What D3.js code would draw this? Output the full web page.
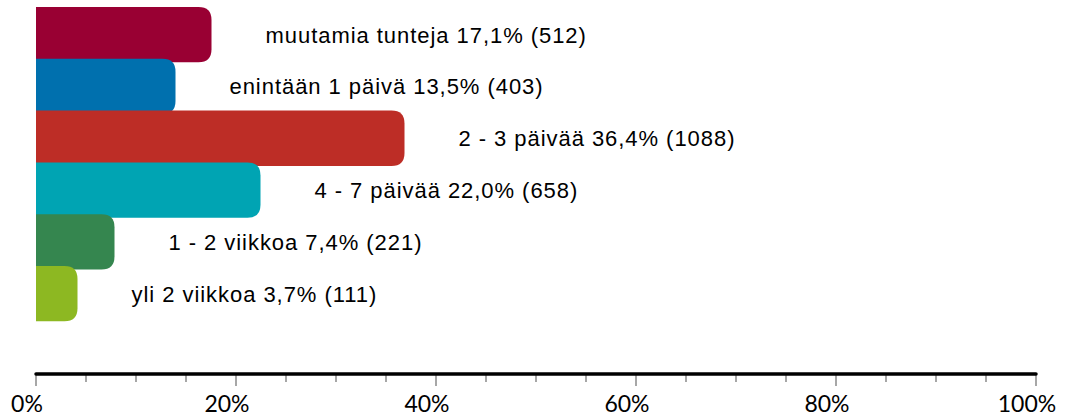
<!DOCTYPE html>
<html>
<head>
<meta charset="utf-8">
<script src="https://cdn.jsdelivr.net/npm/d3@7"></script>
<style>
  body { margin: 0; background: #fff; }
  svg text { fill: #000; }
</style>
</head>
<body>
<svg id="chart"></svg>
<script>
  var
    width = 1066,
    height = 416;

  // data
  var categories = ['muutamia tunteja', 'enintään 1 päivä', '2 - 3 päivää', '4 - 7 päivää', '1 - 2 viikkoa', 'yli 2 viikkoa'];
  var percents = [17.1, 13.5, 36.4, 22.0, 7.4, 3.7];
  var counts = [512, 403, 1088, 658, 221, 111];
  var barColors = ['#990033', '#0070ae', '#bd2d26', '#00a4b3', '#35864f', '#8db822'];
  var tickValues = [0, 20, 40, 60, 80, 100];

  var rows = categories.map(function(c, i) {
    return { name: c, pct: percents[i], n: counts[i], color: barColors[i] };
  });

  var svg = d3.select('#chart')
    .attr('width', width)
    .attr('height', height);

  var x = d3.scaleLinear().domain([0, 100]).range([36, 1036]);
  var y = d3.scaleBand().domain(categories).range([7, 7 + 6 * 51.8]).padding(0);

  var barH = y.bandwidth() + 3.5,
    r = 13,
    cap = 4.5; // bars run a little past their value in the original

  function barPath(d) {
    var x0 = x(0), x1 = x(d.pct) + cap, y0 = y(d.name), y1 = y0 + barH;
    return 'M' + x0 + ',' + y0 +
      'H' + (x1 - r) +
      'Q' + x1 + ',' + y0 + ' ' + x1 + ',' + (y0 + r) +
      'V' + (y1 - r) +
      'Q' + x1 + ',' + y1 + ' ' + (x1 - r) + ',' + y1 +
      'H' + x0 + 'Z';
  }

  svg.append('g')
    .attr('class', 'bars')
    .selectAll('path')
    .data(rows)
    .enter().append('path')
    .attr('d', barPath)
    .attr('fill', function(d) { return d.color; });

  svg.append('g')
    .attr('class', 'labels')
    .selectAll('text')
    .data(rows)
    .enter().append('text')
    .attr('x', function(d) { return x(d.pct) + cap + 54; })
    .attr('y', function(d) { return y(d.name) + barH / 2 + 8; })
    .style('font-family', '"Liberation Sans", Arial, sans-serif')
    .style('font-size', '22px')
    .style('letter-spacing', '0.95px')
    .text(function(d) {
      return d.name + ' ' + d.pct.toFixed(1).replace('.', ',') + '% (' + d.n + ')';
    });

  // axis
  var axisY = 374;
  var minor = d3.range(0, 101, 5).filter(function(v) { return v % 20 !== 0; });

  var axis = svg.append('g').attr('class', 'axis');

  axis.selectAll('line.minor')
    .data(minor)
    .enter().append('line')
    .attr('class', 'minor')
    .attr('x1', function(d) { return x(d); })
    .attr('x2', function(d) { return x(d); })
    .attr('y1', axisY)
    .attr('y2', axisY + 8)
    .attr('stroke', '#8a8a8a')
    .attr('stroke-width', 1.5);

  axis.selectAll('line.major')
    .data(tickValues)
    .enter().append('line')
    .attr('class', 'major')
    .attr('x1', function(d) { return x(d); })
    .attr('x2', function(d) { return x(d); })
    .attr('y1', axisY)
    .attr('y2', axisY + 12)
    .attr('stroke', '#8a8a8a')
    .attr('stroke-width', 1.5);

  axis.append('line')
    .attr('x1', x(0))
    .attr('x2', x(100))
    .attr('y1', axisY)
    .attr('y2', axisY)
    .attr('stroke', '#000')
    .attr('stroke-width', 3.5)
    .attr('stroke-linecap', 'round');

  axis.selectAll('text')
    .data(tickValues)
    .enter().append('text')
    .attr('x', function(d) { return x(d) - 9; })
    .attr('y', 412)
    .attr('text-anchor', 'middle')
    .style('font-family', 'Lato, "Open Sans", sans-serif')
    .style('font-size', '23px')
    .text(function(d) { return d + '%'; });
</script>
</body>
</html>
